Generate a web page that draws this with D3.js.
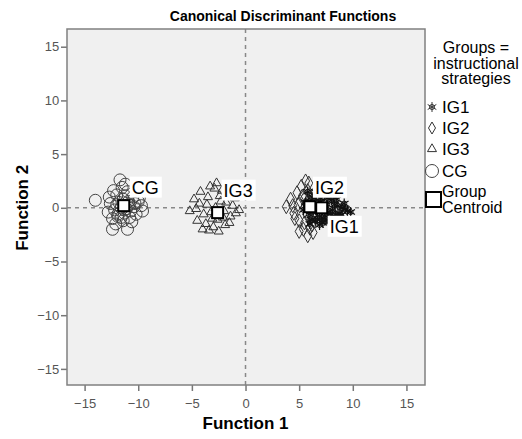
<!DOCTYPE html>
<html>
<head>
<meta charset="utf-8">
<script src="https://cdn.jsdelivr.net/npm/d3@7"></script>
<style>
body { margin: 0; background: #fff; }
text { font-family: "Liberation Sans", Arial, sans-serif; }
</style>
</head>
<body>
<div id="chart"></div>
<script>
// discriminant scores per group (Function 1, Function 2)
var cgX = [-14.0, -11.7, -11.2, -12.3, -12.0, -11.0, -10.5, -10.0, -9.7, -9.6, -12.6, -12.8, -11.9, -11.4, -10.8, -10.2, -12.4, -11.0, -11.6, -10.4, -12.2, -11.8, -11.3, -10.9, -10.6, -9.9, -12.7, -12.1, -11.5, -11.1, -12.0, -11.4, -10.7, -11.9, -11.2, -10.3, -12.4, -11.6, -10.9, -11.3];
var cgY = [0.7, 2.6, 2.2, 1.6, 1.2, 1.5, 1.0, 0.6, 0.2, -0.3, 0.4, -0.4, -0.8, -1.2, -0.9, -0.6, -2.0, -2.0, 0.0, 0.1, -0.2, 0.5, -0.5, 0.3, -1.3, 0.9, 1.0, -1.5, 1.9, -0.1, 0.3, 0.8, -0.3, -0.6, 1.1, 0.4, -1.0, -0.9, 0.6, -0.2];

var ig3X = [-5.2, -4.8, -4.5, -4.2, -3.9, -3.6, -3.3, -3.0, -2.7, -2.4, -2.1, -1.8, -1.5, -1.2, -0.9, -0.6, -4.6, -4.0, -3.5, -3.1, -2.8, -2.5, -2.2, -1.9, -1.4, -1.0, -4.3, -3.7, -3.2, -2.9, -2.6, -2.3, -1.7, -3.4, -2.0];
var ig3Y = [-0.3, 0.8, -1.2, 1.5, -0.6, 0.3, 2.0, -1.8, 2.3, 1.1, -0.9, 0.5, -1.4, 0.2, -0.5, -0.2, -0.1, -2.0, 1.0, -1.0, 0.0, -2.2, 1.6, -1.6, -0.8, 0.9, 0.4, -1.5, -0.4, 1.8, -1.1, 0.6, 1.3, -2.1, -0.3];

var ig2X = [3.8, 4.2, 4.5, 4.8, 5.0, 5.2, 5.4, 5.6, 5.8, 6.0, 6.2, 6.4, 6.6, 6.8, 7.0, 4.6, 5.1, 5.5, 5.9, 6.3, 4.9, 5.3, 5.7, 6.1, 6.5, 5.0, 5.5, 6.0, 4.4, 5.8];
var ig2Y = [0.1, 0.8, -0.5, 1.4, -1.2, 2.0, -2.0, 2.5, -2.6, 1.0, -1.6, 0.4, -0.8, 1.8, -0.2, -1.0, 0.6, -1.4, 2.3, -2.3, 0.3, 1.1, -0.6, 0.0, 1.5, -2.2, 0.9, -1.9, 0.2, 1.6];

var ig1X = [5.6, 5.9, 6.2, 6.5, 6.8, 7.1, 7.4, 7.7, 8.0, 8.3, 8.6, 8.9, 9.2, 9.5, 6.0, 6.4, 6.9, 7.3, 7.8, 8.2, 8.7, 9.0, 6.6, 7.0, 7.5, 8.1, 8.5, 6.3, 7.2, 7.9, 5.8, 6.7, 7.6, 8.4, 9.3, 5.4, 5.7, 6.1, 6.6, 7.0, 7.4, 7.9, 8.3, 8.8, 6.4, 6.9, 7.6, 8.0, 5.9, 9.8];
var ig1Y = [0.5, -0.6, 1.0, -1.2, 0.3, -0.9, 1.3, -0.4, 0.7, -1.1, 0.2, -0.7, 0.4, -0.3, -1.5, 0.9, -1.6, 0.1, -1.3, 1.1, -0.9, 0.0, 1.4, 0.6, -0.8, -0.2, 0.8, -0.3, -1.4, 1.2, 1.5, -1.0, 0.3, -0.6, -0.1, -0.2, 0.2, -1.1, -0.4, 0.9, -1.2, -0.6, 0.3, -0.5, 0.0, -0.3, 0.9, -1.0, 0.6, -0.4];

// group centroids
var centroidNames = ["CG", "IG3", "IG2", "IG1"];
var centroidX = [-11.35, -2.6, 6.0, 7.1];
var centroidY = [0.2, -0.45, 0.1, 0.0];

var ticks = [-15, -10, -5, 0, 5, 10, 15];
var legendNames = ["IG1", "IG2", "IG3", "CG"];

var W = 522, H = 439;
var margin = { top: 29, right: 97, bottom: 54, left: 67 };
var width = W - margin.left - margin.right,
	height = H - margin.top - margin.bottom;

var root = d3.select("#chart").append("svg")
	.attr("width", W)
	.attr("height", H);

var svg = root.append("g")
	.attr("transform", "translate(" + margin.left + "," + margin.top + ")");

var x = d3.scaleLinear().domain([-16.64, 16.73]).range([0, width]);
var y = d3.scaleLinear().domain([-16.5, 16.65]).range([height, 0]);

// plot background
svg.append("rect")
	.attr("width", width)
	.attr("height", height)
	.attr("fill", "#f0f0f0");

// axes
var xAxis = svg.append("g")
	.attr("transform", "translate(0," + height + ")")
	.call(d3.axisBottom(x).tickValues(ticks).tickSize(6).tickFormat(d3.format("d")));
var yAxis = svg.append("g")
	.call(d3.axisLeft(y).tickValues(ticks).tickSize(6).tickFormat(d3.format("d")));

[xAxis, yAxis].forEach(function (a) {
	a.select(".domain").remove();
	a.selectAll("line").attr("stroke", "#777").attr("stroke-width", 1.5);
	a.selectAll("text")
		.attr("fill", "#555")
		.style("font-size", "13px")
		.style("font-family", "Liberation Sans, Arial, sans-serif");
});
xAxis.selectAll("text").attr("dy", "1.05em");
yAxis.selectAll("text").attr("dx", "0.1em");

// reference lines
svg.append("line")
	.attr("x1", x(0)).attr("x2", x(0))
	.attr("y1", 0).attr("y2", height)
	.attr("stroke", "#888").attr("stroke-width", 1.5)
	.attr("stroke-dasharray", "4,4");
svg.append("line")
	.attr("x1", 0).attr("x2", width)
	.attr("y1", y(0)).attr("y2", y(0))
	.attr("stroke", "#888").attr("stroke-width", 1.5)
	.attr("stroke-dasharray", "4,4");

// marker shapes
function diamondPath(w, h) {
	return "M0," + (-h / 2) + "L" + (w / 2) + ",0L0," + (h / 2) + "L" + (-w / 2) + ",0Z";
}
var trianglePath = d3.symbol().type(d3.symbolTriangle2).size(58)();
var starPath = d3.symbol().type(d3.symbolAsterisk).size(70)();

function zip(xs, ys) {
	return xs.map(function (v, i) { return { x: v, y: ys[i] }; });
}

var pts = svg.append("g");

// CG circles
pts.selectAll(".cg")
	.data(zip(cgX, cgY))
	.enter()
	.append("circle")
	.attr("cx", function (d) { return x(d.x); })
	.attr("cy", function (d) { return y(d.y); })
	.attr("r", 6)
	.attr("fill", "none")
	.attr("stroke", "#444")
	.attr("stroke-width", 1);

// IG3 triangles
pts.selectAll(".ig3")
	.data(zip(ig3X, ig3Y))
	.enter()
	.append("path")
	.attr("d", trianglePath)
	.attr("transform", function (d) { return "translate(" + x(d.x) + "," + y(d.y) + ")"; })
	.attr("fill", "none")
	.attr("stroke", "#333")
	.attr("stroke-width", 1);

// IG2 diamonds
pts.selectAll(".ig2")
	.data(zip(ig2X, ig2Y))
	.enter()
	.append("path")
	.attr("d", diamondPath(8, 14))
	.attr("transform", function (d) { return "translate(" + x(d.x) + "," + y(d.y) + ")"; })
	.attr("fill", "none")
	.attr("stroke", "#333")
	.attr("stroke-width", 1);

// IG1 stars
var stars = pts.selectAll(".ig1")
	.data(zip(ig1X, ig1Y))
	.enter()
	.append("g")
	.attr("transform", function (d) { return "translate(" + x(d.x) + "," + y(d.y) + ")"; });
stars.append("path").attr("d", starPath).attr("stroke", "#111").attr("stroke-width", 1.2).attr("fill", "none");
stars.append("circle").attr("r", 2.5).attr("stroke", "#111").attr("fill", "none");

// centroids
var cents = svg.append("g").selectAll("g")
	.data(centroidNames.map(function (n, i) { return { name: n, x: centroidX[i], y: centroidY[i] }; }))
	.enter()
	.append("g")
	.attr("transform", function (d) { return "translate(" + x(d.x) + "," + y(d.y) + ")"; });

cents.append("rect")
	.attr("x", -5.5).attr("y", -5.5)
	.attr("width", 11).attr("height", 11)
	.attr("fill", "#fff")
	.attr("stroke", "#000")
	.attr("stroke-width", 2);

// centroid labels
var labelOffset = { CG: [6, -29], IG3: [4, -33], IG2: [3, -30], IG1: [6, 8] };
var labs = svg.append("g").selectAll("g")
	.data(centroidNames.map(function (n, i) { return { name: n, x: centroidX[i], y: centroidY[i] }; }))
	.enter()
	.append("g")
	.attr("transform", function (d) {
		var o = labelOffset[d.name];
		return "translate(" + (x(d.x) + o[0]) + "," + (y(d.y) + o[1]) + ")";
	});
labs.append("rect")
	.attr("width", function (d) { return d.name === "CG" ? 32 : 34; })
	.attr("height", 21)
	.attr("fill", "#fff");
labs.append("text")
	.attr("x", 2)
	.attr("y", 17)
	.style("font-size", "18px")
	.attr("fill", "#000")
	.text(function (d) { return d.name; });

// border
svg.append("rect")
	.attr("width", width)
	.attr("height", height)
	.attr("fill", "none")
	.attr("stroke", "#808080")
	.attr("stroke-width", 1.5);

// title and axis titles
root.append("text")
	.attr("x", 283).attr("y", 21)
	.attr("text-anchor", "middle")
	.style("font-size", "14px")
	.style("font-weight", "bold")
	.text("Canonical Discriminant Functions");

root.append("text")
	.attr("x", margin.left + x(0)).attr("y", 429)
	.attr("text-anchor", "middle")
	.style("font-size", "17px")
	.style("font-weight", "bold")
	.text("Function 1");

root.append("text")
	.attr("transform", "translate(28," + (margin.top + y(0)) + ") rotate(-90)")
	.attr("text-anchor", "middle")
	.style("font-size", "17px")
	.style("font-weight", "bold")
	.text("Function 2");

// legend
var legend = root.append("g");
["Groups =", "instructional", "strategies"].forEach(function (t, i) {
	legend.append("text")
		.attr("x", 476).attr("y", 53 + i * 15.5)
		.attr("text-anchor", "middle")
		.style("font-size", "16px")
		.text(t);
});

var legY = [107, 128, 149, 171];
var lg = legend.selectAll(".item")
	.data(legendNames)
	.enter()
	.append("g")
	.attr("transform", function (d, i) { return "translate(432," + legY[i] + ")"; });

lg.each(function (d) {
	var g = d3.select(this);
	if (d === "IG1") {
		g.append("path").attr("d", starPath).attr("stroke", "#333").attr("fill", "none");
		g.append("circle").attr("r", 2.5).attr("stroke", "#333").attr("fill", "none");
	} else if (d === "IG2") {
		g.append("path").attr("d", diamondPath(7, 12)).attr("stroke", "#333").attr("fill", "none");
	} else if (d === "IG3") {
		g.append("path").attr("d", trianglePath).attr("stroke", "#333").attr("fill", "none");
	} else {
		g.append("circle").attr("r", 6.5).attr("stroke", "#444").attr("fill", "none");
	}
});
lg.append("text")
	.attr("x", 10).attr("y", 6)
	.style("font-size", "17px")
	.text(function (d) { return d; });

legend.append("rect")
	.attr("x", 426).attr("y", 192)
	.attr("width", 15).attr("height", 15)
	.attr("fill", "none")
	.attr("stroke", "#000")
	.attr("stroke-width", 2);
legend.append("text").attr("x", 442).attr("y", 197).style("font-size", "16px").text("Group");
legend.append("text").attr("x", 442).attr("y", 213).style("font-size", "16px").text("Centroid");
</script>
</body>
</html>
